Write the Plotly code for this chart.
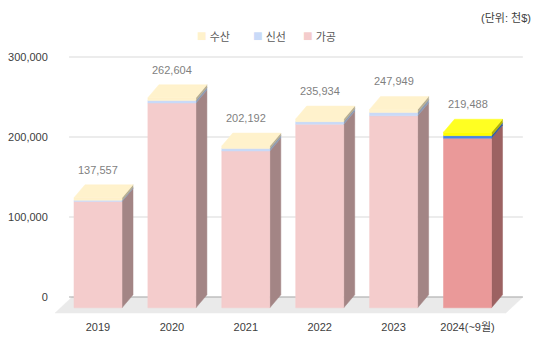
import plotly.graph_objects as go

# ---- data ----
years = ["2019", "2020", "2021", "2022", "2023", "2024(~9월)"]
totals = [137557, 262604, 202192, 235934, 247949, 219488]
gagong = [133000, 256000, 196000, 229500, 240000, 212000]   # 가공
sinseon = [1500, 3200, 3000, 3200, 4000, 3200]              # 신선
suisan = [3057, 3404, 3192, 3234, 3949, 4288]               # 수산
y_ticks = [0, 100000, 200000, 300000]
series_names = ["가공", "신선", "수산"]  # bottom -> top
legend_order = ["수산", "신선", "가공"]

# ---- styles ----
FRONT = {"가공": "#F4CCCC", "신선": "#C9DAF8", "수산": "#FFF2CC"}
SIDE = {"가공": "#A38585", "신선": "#8C9AB3", "수산": "#B8AE90"}
TOP = {"수산": "#FFF2CC"}
FRONT_HL = {"가공": "#EA9999", "신선": "#4A86E8", "수산": "#FFFF00"}
SIDE_HL = {"가공": "#9C6262", "신선": "#335DA2", "수산": "#B3B300"}
TOP_HL = {"수산": "#FFFF22"}
highlight_index = 5
LEGEND_X = [0.2979, 0.417, 0.5234]   # paper positions of legend entries

HALF = 0.325     # half width of front face (x units)
DX = 0.149       # depth offset in x units
DV = 16250       # depth offset in value units
F = -13500       # front-plane zero offset
FLOOR_DX = 0.23
FLOOR_DV = 20000
WALL_L, WALL_R = -0.5, 5.60

fig = go.Figure()


def face(xs, ys, color):
    fig.add_trace(go.Scatter(
        x=xs + [xs[0]], y=ys + [ys[0]], mode="lines", fill="toself",
        fillcolor=color, line=dict(color=color, width=0.5),
        hoverinfo="skip", showlegend=False))


# floor
face([WALL_L, WALL_R, WALL_R - FLOOR_DX, WALL_L - FLOOR_DX],
     [0, 0, -FLOOR_DV, -FLOOR_DV], "#EAEAEA")

# gridlines on back wall
for t in y_ticks:
    fig.add_trace(go.Scatter(
        x=[WALL_L - 0.04, WALL_R], y=[t, t], mode="lines",
        line=dict(color="#A6A6A6" if t == 0 else "#D9D9D9", width=1),
        hoverinfo="skip", showlegend=False))

seg_values = {"가공": gagong, "신선": sinseon, "수산": suisan}

for i in range(len(years)):
    hl = i == highlight_index
    fc = FRONT_HL if hl else FRONT
    sc = SIDE_HL if hl else SIDE
    tc = TOP_HL if hl else TOP
    xl = i - DX - HALF
    xr = i - DX + HALF
    base = 0
    for name in series_names:
        v = seg_values[name][i]
        b = base + F
        t = base + v + F
        face([xr, xr + DX, xr + DX, xr], [b, b + DV, t + DV, t], sc[name])
        face([xl, xr, xr, xl], [b, b, t, t], fc[name])
        base += v
    top = base + F
    face([xl, xr, xr + DX, xl + DX], [top, top, top + DV, top + DV], tc["수산"])

# legend (text-based)
for name, lx in zip(legend_order, LEGEND_X):
    fig.add_annotation(
        xref="paper", yref="paper", x=lx, y=1.018, xanchor="left",
        yanchor="middle", showarrow=False,
        text=f"<span style='color:{FRONT[name]};font-size:16px'>■</span> {name}",
        font=dict(size=11, color="#595959"))

# value labels
for i, tot in enumerate(totals):
    fig.add_annotation(
        x=i - DX, y=tot + F + DV, text=f"{tot:,}", showarrow=False,
        yanchor="middle", yshift=15,
        font=dict(size=11, color="#7F7F7F"))

fig.add_annotation(
    xref="paper", yref="paper", x=1.017, y=1.083, xanchor="right",
    yanchor="middle", text="(단위: 천$)", showarrow=False,
    font=dict(size=11, color="#404040"))

fig.update_layout(
    width=547, height=346,
    margin=dict(l=55, r=22, t=40, b=30, autoexpand=False),
    paper_bgcolor="white", plot_bgcolor="white",
    font=dict(family="Liberation Sans, Arial, Noto Sans CJK KR", size=11,
              color="#404040"),
    showlegend=False,
    hovermode=False,
    xaxis=dict(range=[-0.7307, 5.629], showgrid=False, zeroline=False,
               showline=False, tickvals=[i - DX for i in range(len(years))],
               ticktext=years, ticks="outside", ticklen=1,
               tickcolor="rgba(0,0,0,0)", fixedrange=True, automargin=False),
    yaxis=dict(range=[-23750, 321250], showgrid=False, zeroline=False,
               showline=False, tickvals=y_ticks,
               ticktext=[f"{t:,}" for t in y_ticks], ticks="outside",
               ticklen=4, tickcolor="rgba(0,0,0,0)", fixedrange=True,
               automargin=False),
)

fig.write_html("out.html")
